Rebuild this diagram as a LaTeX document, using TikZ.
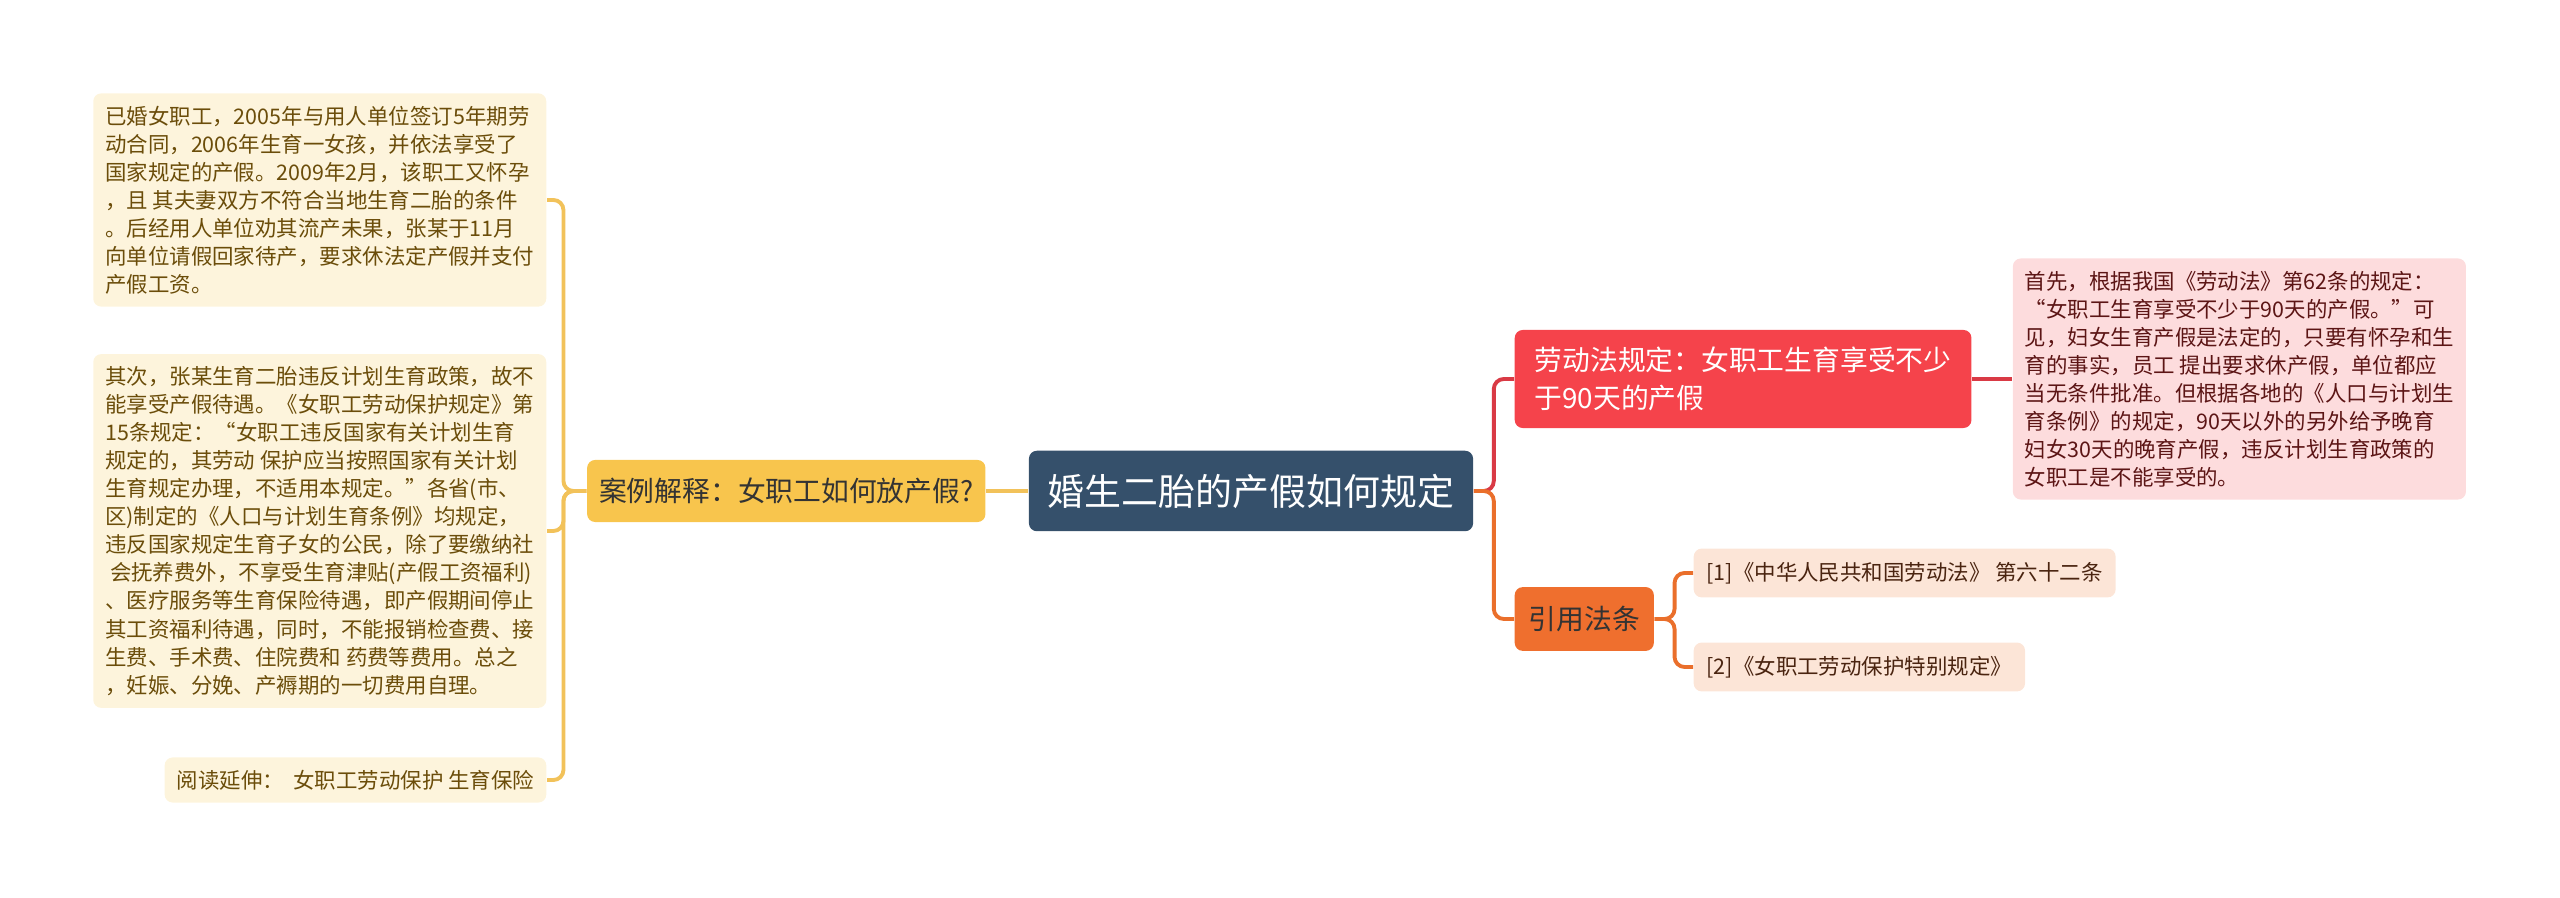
\documentclass[tikz,border=0pt]{standalone}
\usepackage{fontspec}
\setmainfont{Noto Sans CJK SC}
\usepackage{xcolor}
\usetikzlibrary{positioning}
\definecolor{rootblue}{HTML}{35506B}
\definecolor{caseyel}{HTML}{F8C54D}
\definecolor{yelline}{HTML}{F2C25A}
\definecolor{notefill}{HTML}{FDF4DC}
\definecolor{notetext}{HTML}{6B4D0A}
\definecolor{lawred}{HTML}{F5434B}
\definecolor{redline}{HTML}{D93A45}
\definecolor{pinkfill}{HTML}{FDDCDD}
\definecolor{pinktext}{HTML}{5C1515}
\definecolor{citeorg}{HTML}{EF6F2E}
\definecolor{orgline}{HTML}{EA6F2B}
\definecolor{reffill}{HTML}{FCE5D7}
\definecolor{reftext}{HTML}{4A2410}
\tikzset{
  rootbox/.style={rectangle, rounded corners=0.08cm, fill=rootblue, text=white, font=\fontsize{10.5}{12}\selectfont, inner xsep=0.19cm, inner ysep=0.23cm},
  casebox/.style={rectangle, rounded corners=0.08cm, fill=caseyel, text=black!80, font=\fontsize{7.9}{9}\selectfont, inner xsep=0.12cm, inner ysep=0.18cm},
  notebox/.style={rectangle, rounded corners=0.08cm, fill=notefill, text=notetext, align=left, font=\fontsize{6.1}{7.97}\selectfont, inner xsep=0.12cm, inner ysep=0.125cm},
  lawbox/.style={rectangle, rounded corners=0.08cm, fill=lawred, text=white, align=left, font=\fontsize{7.9}{10.8}\selectfont, inner xsep=0.2cm, inner ysep=0.17cm},
  pinkbox/.style={notebox, fill=pinkfill, text=pinktext},
  citebox/.style={rectangle, rounded corners=0.08cm, fill=citeorg, text=black!80, font=\fontsize{7.9}{9}\selectfont, inner xsep=0.14cm, inner ysep=0.19cm},
  refbox/.style={rectangle, rounded corners=0.08cm, fill=reffill, text=reftext, font=\fontsize{6.1}{7.97}\selectfont, inner xsep=0.13cm, inner ysep=0.135cm},
  ylink/.style={draw=yelline, line width=1.1pt, rounded corners=0.1cm},
  rlink/.style={draw=redline, line width=1.1pt, rounded corners=0.1cm},
  olink/.style={draw=orgline, line width=1.1pt, rounded corners=0.1cm},
}
\begin{document}
\begin{tikzpicture}[x=0.01cm, y=-0.01cm]
  \useasboundingbox (0,0) rectangle (2560,898);
  % centre
  \node[rootbox] (root) at (1251,491) {婚生二胎的产假如何规定};
  % left branch
  \node[casebox, left=0.42cm of root] (case) {案例解释：女职工如何放产假?};
  \node[notebox, anchor=east] (l1) at (547,200) {已婚女职工，2005年与用人单位签订5年期劳\\动合同，2006年生育一女孩，并依法享受了\\国家规定的产假。2009年2月，该职工又怀孕\\，且 其夫妻双方不符合当地生育二胎的条件\\。后经用人单位劝其流产未果，张某于11月\\向单位请假回家待产，要求休法定产假并支付\\产假工资。};
  \node[notebox, anchor=east] (l2) at (547,531) {其次，张某生育二胎违反计划生育政策，故不\\能享受产假待遇。《女职工劳动保护规定》第\\15条规定：“女职工违反国家有关计划生育\\规定的，其劳动 保护应当按照国家有关计划\\生育规定办理，不适用本规定。”各省(市、\\区)制定的《人口与计划生育条例》均规定，\\违反国家规定生育子女的公民，除了要缴纳社\\\ 会抚养费外，不享受生育津贴(产假工资福利)\\、医疗服务等生育保险待遇，即产假期间停止\\其工资福利待遇，同时，不能报销检查费、接\\生费、手术费、住院费和 药费等费用。总之\\，妊娠、分娩、产褥期的一切费用自理。};
  \node[notebox, anchor=east] (l3) at (547,780) {阅读延伸：\ \ 女职工劳动保护 生育保险};
  \draw[ylink] (root) -- (case);
  \draw[ylink] (case.west) -- ++(-23,0) |- (l1.east);
  \draw[ylink] (case.west) -- ++(-23,0) |- (l2.east);
  \draw[ylink] (case.west) -- ++(-23,0) |- (l3.east);
  % right branch
  \node[lawbox, anchor=west] (law) at (1514,379) {劳动法规定：女职工生育享受不少\\于90天的产假};
  \node[pinkbox, right=0.4cm of law] (pink) {首先，根据我国《劳动法》第62条的规定：\\“女职工生育享受不少于90天的产假。”可\\见，妇女生育产假是法定的，只要有怀孕和生\\育的事实，员工 提出要求休产假，单位都应\\当无条件批准。但根据各地的《人口与计划生\\育条例》的规定，90天以外的另外给予晚育\\妇女30天的晚育产假，违反计划生育政策的\\女职工是不能享受的。};
  \node[citebox, anchor=west] (cite) at (1514,619) {引用法条};
  \node[refbox, anchor=west] (r1) at (1693,573) {[1]《中华人民共和国劳动法》 第六十二条};
  \node[refbox, anchor=west] (r2) at (1693,667) {[2]《女职工劳动保护特别规定》};
  \draw[rlink] (root.east) -- ++(20,0) |- (law.west);
  \draw[olink] (root.east) -- ++(20,0) |- (cite.west);
  \draw[rlink] (law) -- (pink);
  \draw[olink] (cite.east) -- ++(20,0) |- (r1.west);
  \draw[olink] (cite.east) -- ++(20,0) |- (r2.west);
\end{tikzpicture}
\end{document}
